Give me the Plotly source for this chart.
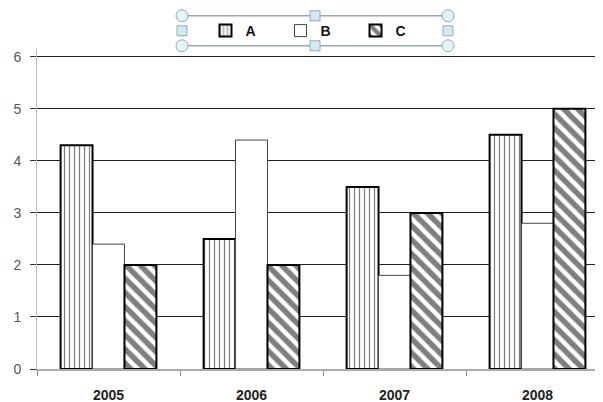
import plotly.graph_objects as go

years = ["2005", "2006", "2007", "2008"]
series_a = [4.3, 2.5, 3.5, 4.5]
series_b = [2.4, 4.4, 1.8, 2.8]
series_c = [2.0, 2.0, 3.0, 5.0]
y_ticks = [0, 1, 2, 3, 4, 5, 6]

fig = go.Figure()
fig.add_trace(go.Bar(
    name="A", x=years, y=series_a,
    marker=dict(color="white", line=dict(color="black", width=2),
                pattern=dict(shape="|", fgcolor="black", bgcolor="white", size=5, solidity=0.25)),
))
fig.add_trace(go.Bar(
    name="B", x=years, y=series_b,
    marker=dict(color="white", line=dict(color="#444", width=1)),
))
fig.add_trace(go.Bar(
    name="C", x=years, y=series_c,
    marker=dict(color="white", line=dict(color="black", width=2),
                pattern=dict(shape="\\", fgcolor="black", bgcolor="white", size=10, solidity=0.55)),
))

OFF = 8  # page body margin
W, H = 603, 402
Y_MAX = 6.15
PX_PER_UNIT = 52
PR_PAGE = 609
PB_PAGE = 369
PT_PAGE = PB_PAGE - Y_MAX * PX_PER_UNIT
PL = 37 - OFF
PW = PR_PAGE - 37
PH = PB_PAGE - PT_PAGE

def px2x(px):
    return (px - 37) / PW

def py2y(py):
    return (PB_PAGE - py) / PH

frame_col = "#9aa8b0"
shapes = []
for py in (16, 46):
    shapes.append(dict(type="line", xref="paper", yref="paper", x0=px2x(182), x1=px2x(448),
                       y0=py2y(py), y1=py2y(py), line=dict(color=frame_col, width=1.5)))
for px in (182, 315, 448):
    for py in (16, 46):
        cx, cy = px2x(px), py2y(py)
        if px == 315:
            shapes.append(dict(type="rect", xref="paper", yref="paper",
                               x0=cx-5/PW, x1=cx+5/PW, y0=cy-5/PH, y1=cy+5/PH,
                               fillcolor="#cfeaf2", line=dict(color=frame_col, width=1)))
        else:
            shapes.append(dict(type="circle", xref="paper", yref="paper",
                               x0=cx-6/PW, x1=cx+6/PW, y0=cy-6/PH, y1=cy+6/PH,
                               fillcolor="#e3f3f7", line=dict(color=frame_col, width=1)))
for px in (182, 448):
    cx, cy = px2x(px), py2y(31)
    shapes.append(dict(type="rect", xref="paper", yref="paper",
                       x0=cx-5/PW, x1=cx+5/PW, y0=cy-5/PH, y1=cy+5/PH,
                       fillcolor="#cfeaf2", line=dict(color=frame_col, width=1)))

fig.update_layout(
    width=W, height=H,
    margin=dict(l=PL, r=W - (PR_PAGE - OFF), t=PT_PAGE - OFF, b=H - (PB_PAGE - OFF), autoexpand=False),
    paper_bgcolor="white", plot_bgcolor="white",
    barmode="group", bargap=0.33, bargroupgap=0,
    font=dict(family="Liberation Sans, Arial, sans-serif", size=14, color="#333"),
    showlegend=True,
    legend=dict(orientation="h", xref="paper", x=px2x(318), xanchor="center",
                yref="container", y=1 - (31 - OFF)/H, yanchor="middle",
                font=dict(size=14, color="#111", family="Liberation Sans, Arial, sans-serif", weight="bold"),
                bgcolor="rgba(0,0,0,0)", entrywidth=30, itemwidth=30, tracegroupgap=0),
    shapes=shapes,
    xaxis=dict(type="category", range=[-0.5, 3.5], tickson="boundaries",
               ticks="outside", ticklen=5, tickcolor="#888", ticklabelstandoff=12,
               showline=True, linecolor="#aaa", linewidth=1.5, showgrid=False,
               tickfont=dict(size=14, color="#222", family="Liberation Sans, Arial, sans-serif", weight="bold")),
    yaxis=dict(range=[0, Y_MAX], tickvals=y_ticks, showgrid=True, gridcolor="#222", gridwidth=1.2,
               ticks="outside", ticklen=6, tickcolor="#333", ticklabelstandoff=6,
               showline=True, linecolor="#bbb", linewidth=1, zeroline=False,
               tickfont=dict(size=14, color="#555")),
)

fig.write_html("out.html")
